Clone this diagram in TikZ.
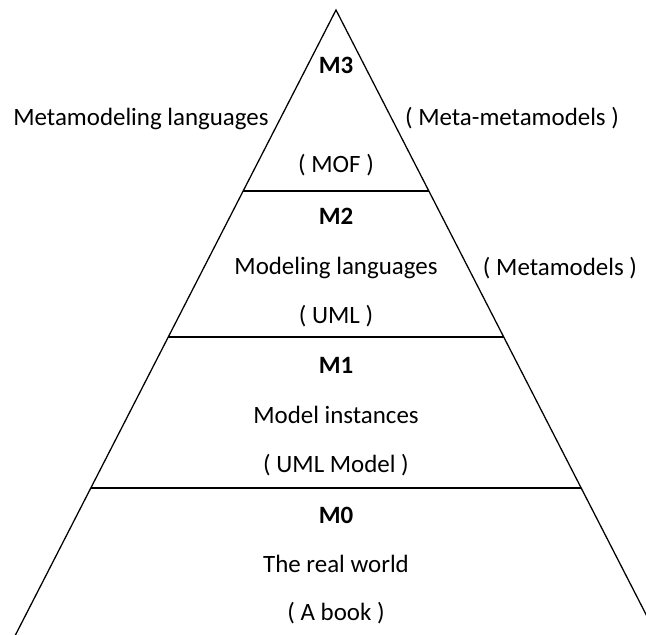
\documentclass[tikz,border=0pt]{standalone}
\usepackage{fontspec}
\setmainfont{Carlito}
\begin{document}
\begin{tikzpicture}[x=0.75pt, y=-0.75pt, line width=0.95pt,
  txt/.style={anchor=base, inner sep=0pt, font=\fontsize{18.7}{22}\selectfont},
  lvl/.style={anchor=base, inner sep=0pt, font=\fontsize{18.7}{22}\selectfont\bfseries}]
  \useasboundingbox (0,0) rectangle (646,635);
  \clip (0,0) rectangle (646,635);

  % pyramid outline (base runs past the frame)
  \coordinate (apex) at (336,10);
  \coordinate (footL) at (10.3,645);
  \coordinate (footR) at (661.7,645);
  \draw (footL) -- (apex) -- (footR);

  % level separators
  \coordinate (s1L) at (243.1,191); \coordinate (s1R) at (428.9,191);
  \coordinate (s2L) at (168.2,337); \coordinate (s2R) at (503.8,337);
  \coordinate (s3L) at (90.8,488);  \coordinate (s3R) at (581.2,488);
  \draw (s1L) -- (s1R);
  \draw (s2L) -- (s2R);
  \draw (s3L) -- (s3R);

  % M3
  \node[lvl] (m3) at (336,74) {M3};
  \node[txt] (m3a) at (141,125) {Metamodeling languages};
  \node[txt] (m3b) at (512,125) {( Meta-metamodels )};
  \node[txt] (m3c) at (336,172) {( MOF )};

  % M2
  \node[lvl] (m2) at (336,224) {M2};
  \node[txt] (m2a) at (336,274) {Modeling languages};
  \node[txt] (m2b) at (560,275) {( Metamodels )};
  \node[txt] (m2c) at (336,323) {( UML )};

  % M1
  \node[lvl] (m1) at (336,373) {M1};
  \node[txt] (m1a) at (336,423) {Model instances};
  \node[txt] (m1c) at (336,472) {( UML Model )};

  % M0
  \node[lvl] (m0) at (336,523) {M0};
  \node[txt] (m0a) at (336,572) {The real world};
  \node[txt] (m0c) at (336,620) {( A book )};
\end{tikzpicture}
\end{document}
